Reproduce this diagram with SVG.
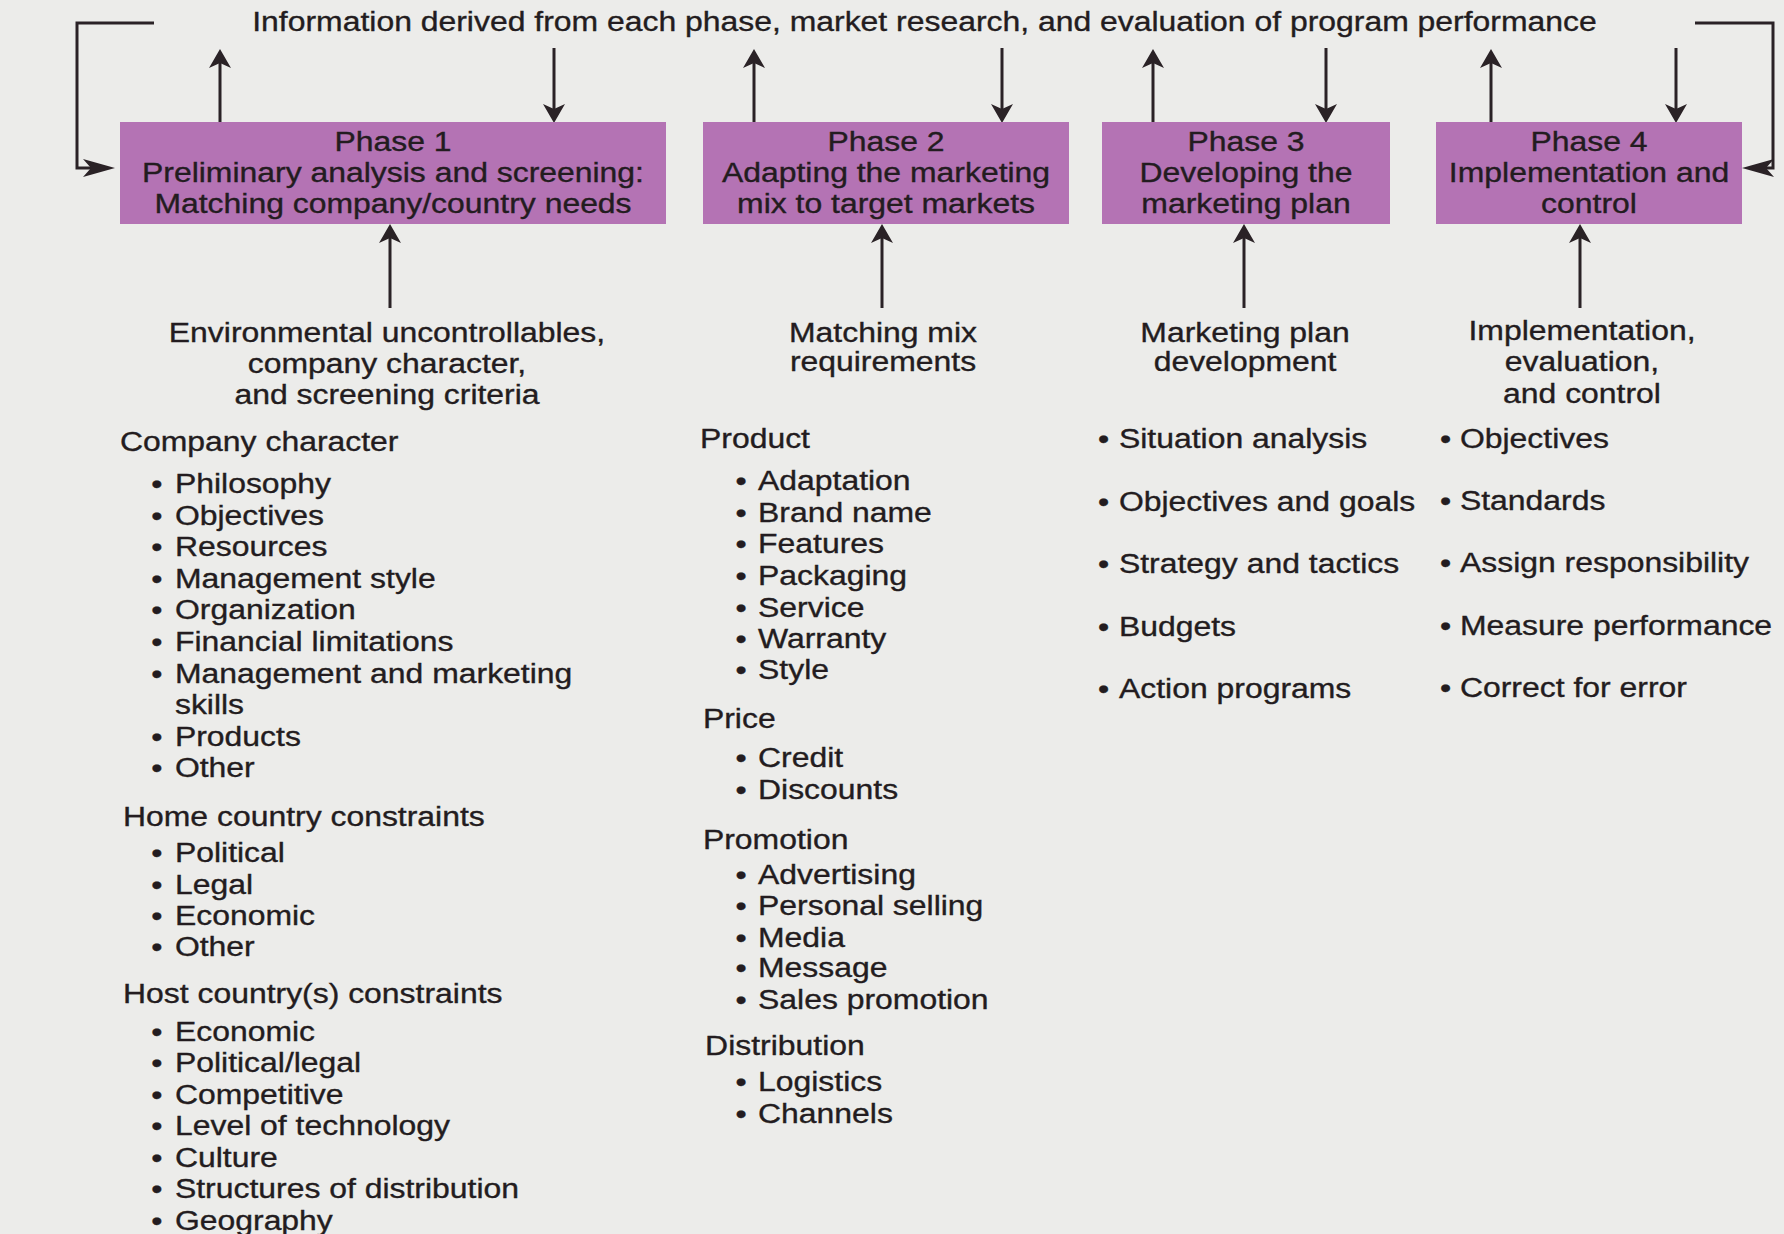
<svg xmlns="http://www.w3.org/2000/svg" width="1784" height="1234" viewBox="0 0 1784 1234">
  <style>
    .t { font-family: "Liberation Sans", Arial, Helvetica, sans-serif; font-size: 28px; fill: #231c20; stroke: #231c20; stroke-width: 0.35px; }
    .c { text-anchor: middle; }
    .box { fill: #b473b4; }
    .ln { stroke: #2a2226; stroke-width: 3; fill: none; }
    .hd { fill: #2a2226; }
  </style>
  <defs>
    <!-- barbed head for the vertical feeds -->
    <marker id="av" viewBox="0 -12 19 24" markerUnits="userSpaceOnUse" markerWidth="19" markerHeight="24" refX="12" refY="0" orient="auto">
      <path class="hd" d="M0,-11 L19,0 L0,11 L5,0 Z"/>
    </marker>
    <!-- longer head for the feedback loops -->
    <marker id="ah" viewBox="0 -10 32 20" markerUnits="userSpaceOnUse" markerWidth="32" markerHeight="20" refX="24" refY="0" orient="auto">
      <path class="hd" d="M0,-9 L32,0 L0,9 L8,0 Z"/>
    </marker>
  </defs>

  <rect width="1784" height="1234" fill="#ececea"/>

  <g id="connectors">
    <!-- feedback loops from the information banner -->
    <path class="ln" d="M154,23 H77 V168 H107" marker-end="url(#ah)"/>
    <path class="ln" d="M1695,23 H1773 V168 H1750" marker-end="url(#ah)"/>
    <!-- phase outputs up to the banner -->
    <path class="ln" d="M220,122 V56" marker-end="url(#av)"/>
    <path class="ln" d="M754,122 V56" marker-end="url(#av)"/>
    <path class="ln" d="M1153,122 V56" marker-end="url(#av)"/>
    <path class="ln" d="M1491,122 V56" marker-end="url(#av)"/>
    <!-- banner inputs down into the phases -->
    <path class="ln" d="M554,48 V116" marker-end="url(#av)"/>
    <path class="ln" d="M1002,48 V116" marker-end="url(#av)"/>
    <path class="ln" d="M1326,48 V116" marker-end="url(#av)"/>
    <path class="ln" d="M1676,48 V116" marker-end="url(#av)"/>
    <!-- requirement feeds up into the phases -->
    <path class="ln" d="M390,308 V231" marker-end="url(#av)"/>
    <path class="ln" d="M882,308 V231" marker-end="url(#av)"/>
    <path class="ln" d="M1244,308 V231" marker-end="url(#av)"/>
    <path class="ln" d="M1580,308 V231" marker-end="url(#av)"/>
  </g>

  <g id="info-banner">
    <g transform="translate(924.5,0) scale(1.14,1)">
      <text class="t c" x="0" y="31">Information derived from each phase, market research, and evaluation of program performance</text>
    </g>
  </g>

  <g id="phase1">
    <rect class="box" x="120" y="122" width="546" height="102"/>
    <g transform="translate(393,0) scale(1.14,1)">
      <text class="t c" x="0" y="151">Phase 1</text>
      <text class="t c" x="0" y="182.5">Preliminary analysis and screening:</text>
      <text class="t c" x="0" y="213">Matching company/country needs</text>
    </g>
  </g>

  <g id="phase2">
    <rect class="box" x="703" y="122" width="366" height="102"/>
    <g transform="translate(886,0) scale(1.14,1)">
      <text class="t c" x="0" y="151">Phase 2</text>
      <text class="t c" x="0" y="182.5">Adapting the marketing</text>
      <text class="t c" x="0" y="213">mix to target markets</text>
    </g>
  </g>

  <g id="phase3">
    <rect class="box" x="1102" y="122" width="288" height="102"/>
    <g transform="translate(1246,0) scale(1.14,1)">
      <text class="t c" x="0" y="151">Phase 3</text>
      <text class="t c" x="0" y="182.5">Developing the</text>
      <text class="t c" x="0" y="213">marketing plan</text>
    </g>
  </g>

  <g id="phase4">
    <rect class="box" x="1436" y="122" width="306" height="102"/>
    <g transform="translate(1589,0) scale(1.14,1)">
      <text class="t c" x="0" y="151">Phase 4</text>
      <text class="t c" x="0" y="182.5">Implementation and</text>
      <text class="t c" x="0" y="213">control</text>
    </g>
  </g>

  <g id="screening-inputs">
    <g transform="translate(387,0) scale(1.14,1)">
      <text class="t c" x="0" y="342">Environmental uncontrollables,</text>
      <text class="t c" x="0" y="373">company character,</text>
      <text class="t c" x="0" y="404">and screening criteria</text>
    </g>
    <g transform="translate(120,0) scale(1.14,1)">
      <text class="t" x="0" y="451">Company character</text>
      <text class="t" y="493"><tspan x="27.5">•</tspan><tspan x="48.2">Philosophy</tspan></text>
      <text class="t" y="524.6"><tspan x="27.5">•</tspan><tspan x="48.2">Objectives</tspan></text>
      <text class="t" y="556.2"><tspan x="27.5">•</tspan><tspan x="48.2">Resources</tspan></text>
      <text class="t" y="587.8"><tspan x="27.5">•</tspan><tspan x="48.2">Management style</tspan></text>
      <text class="t" y="619.4"><tspan x="27.5">•</tspan><tspan x="48.2">Organization</tspan></text>
      <text class="t" y="651"><tspan x="27.5">•</tspan><tspan x="48.2">Financial limitations</tspan></text>
      <text class="t" y="682.6"><tspan x="27.5">•</tspan><tspan x="48.2">Management and marketing</tspan></text>
      <text class="t" x="48.2" y="714.2">skills</text>
      <text class="t" y="745.8"><tspan x="27.5">•</tspan><tspan x="48.2">Products</tspan></text>
      <text class="t" y="777.4"><tspan x="27.5">•</tspan><tspan x="48.2">Other</tspan></text>

      <text class="t" x="2.6" y="826">Home country constraints</text>
      <text class="t" y="862"><tspan x="27.5">•</tspan><tspan x="48.2">Political</tspan></text>
      <text class="t" y="894"><tspan x="27.5">•</tspan><tspan x="48.2">Legal</tspan></text>
      <text class="t" y="925"><tspan x="27.5">•</tspan><tspan x="48.2">Economic</tspan></text>
      <text class="t" y="956"><tspan x="27.5">•</tspan><tspan x="48.2">Other</tspan></text>

      <text class="t" x="2.6" y="1003">Host country(s) constraints</text>
      <text class="t" y="1041"><tspan x="27.5">•</tspan><tspan x="48.2">Economic</tspan></text>
      <text class="t" y="1072"><tspan x="27.5">•</tspan><tspan x="48.2">Political/legal</tspan></text>
      <text class="t" y="1104"><tspan x="27.5">•</tspan><tspan x="48.2">Competitive</tspan></text>
      <text class="t" y="1135"><tspan x="27.5">•</tspan><tspan x="48.2">Level of technology</tspan></text>
      <text class="t" y="1167"><tspan x="27.5">•</tspan><tspan x="48.2">Culture</tspan></text>
      <text class="t" y="1198"><tspan x="27.5">•</tspan><tspan x="48.2">Structures of distribution</tspan></text>
      <text class="t" y="1230"><tspan x="27.5">•</tspan><tspan x="48.2">Geography</tspan></text>
    </g>
  </g>

  <g id="mix-inputs">
    <g transform="translate(883,0) scale(1.14,1)">
      <text class="t c" x="0" y="342">Matching mix</text>
      <text class="t c" x="0" y="371">requirements</text>
    </g>
    <g transform="translate(700,0) scale(1.14,1)">
      <text class="t" x="0" y="448.5">Product</text>
      <text class="t" y="490.5"><tspan x="31.1">•</tspan><tspan x="50.9">Adaptation</tspan></text>
      <text class="t" y="522"><tspan x="31.1">•</tspan><tspan x="50.9">Brand name</tspan></text>
      <text class="t" y="553"><tspan x="31.1">•</tspan><tspan x="50.9">Features</tspan></text>
      <text class="t" y="585"><tspan x="31.1">•</tspan><tspan x="50.9">Packaging</tspan></text>
      <text class="t" y="617"><tspan x="31.1">•</tspan><tspan x="50.9">Service</tspan></text>
      <text class="t" y="648"><tspan x="31.1">•</tspan><tspan x="50.9">Warranty</tspan></text>
      <text class="t" y="679"><tspan x="31.1">•</tspan><tspan x="50.9">Style</tspan></text>

      <text class="t" x="2.6" y="728">Price</text>
      <text class="t" y="767"><tspan x="31.1">•</tspan><tspan x="50.9">Credit</tspan></text>
      <text class="t" y="799"><tspan x="31.1">•</tspan><tspan x="50.9">Discounts</tspan></text>

      <text class="t" x="2.6" y="849">Promotion</text>
      <text class="t" y="884"><tspan x="31.1">•</tspan><tspan x="50.9">Advertising</tspan></text>
      <text class="t" y="915"><tspan x="31.1">•</tspan><tspan x="50.9">Personal selling</tspan></text>
      <text class="t" y="947"><tspan x="31.1">•</tspan><tspan x="50.9">Media</tspan></text>
      <text class="t" y="977"><tspan x="31.1">•</tspan><tspan x="50.9">Message</tspan></text>
      <text class="t" y="1009"><tspan x="31.1">•</tspan><tspan x="50.9">Sales promotion</tspan></text>

      <text class="t" x="4.5" y="1055">Distribution</text>
      <text class="t" y="1091"><tspan x="31.1">•</tspan><tspan x="50.9">Logistics</tspan></text>
      <text class="t" y="1123"><tspan x="31.1">•</tspan><tspan x="50.9">Channels</tspan></text>
    </g>
  </g>

  <g id="plan-inputs">
    <g transform="translate(1245,0) scale(1.14,1)">
      <text class="t c" x="0" y="342">Marketing plan</text>
      <text class="t c" x="0" y="371">development</text>
    </g>
    <g transform="translate(1098,0) scale(1.14,1)">
      <text class="t" y="448.5"><tspan x="0">•</tspan><tspan x="18.4">Situation analysis</tspan></text>
      <text class="t" y="511"><tspan x="0">•</tspan><tspan x="18.4">Objectives and goals</tspan></text>
      <text class="t" y="573.5"><tspan x="0">•</tspan><tspan x="18.4">Strategy and tactics</tspan></text>
      <text class="t" y="636"><tspan x="0">•</tspan><tspan x="18.4">Budgets</tspan></text>
      <text class="t" y="698.5"><tspan x="0">•</tspan><tspan x="18.4">Action programs</tspan></text>
    </g>
  </g>

  <g id="control-inputs">
    <g transform="translate(1582,0) scale(1.14,1)">
      <text class="t c" x="0" y="340.5">Implementation,</text>
      <text class="t c" x="0" y="371">evaluation,</text>
      <text class="t c" x="0" y="403">and control</text>
    </g>
    <g transform="translate(1440,0) scale(1.14,1)">
      <text class="t" y="448.5"><tspan x="0">•</tspan><tspan x="17.5">Objectives</tspan></text>
      <text class="t" y="510"><tspan x="0">•</tspan><tspan x="17.5">Standards</tspan></text>
      <text class="t" y="572"><tspan x="0">•</tspan><tspan x="17.5">Assign responsibility</tspan></text>
      <text class="t" y="635"><tspan x="0">•</tspan><tspan x="17.5">Measure performance</tspan></text>
      <text class="t" y="697"><tspan x="0">•</tspan><tspan x="17.5">Correct for error</tspan></text>
    </g>
  </g>
</svg>
